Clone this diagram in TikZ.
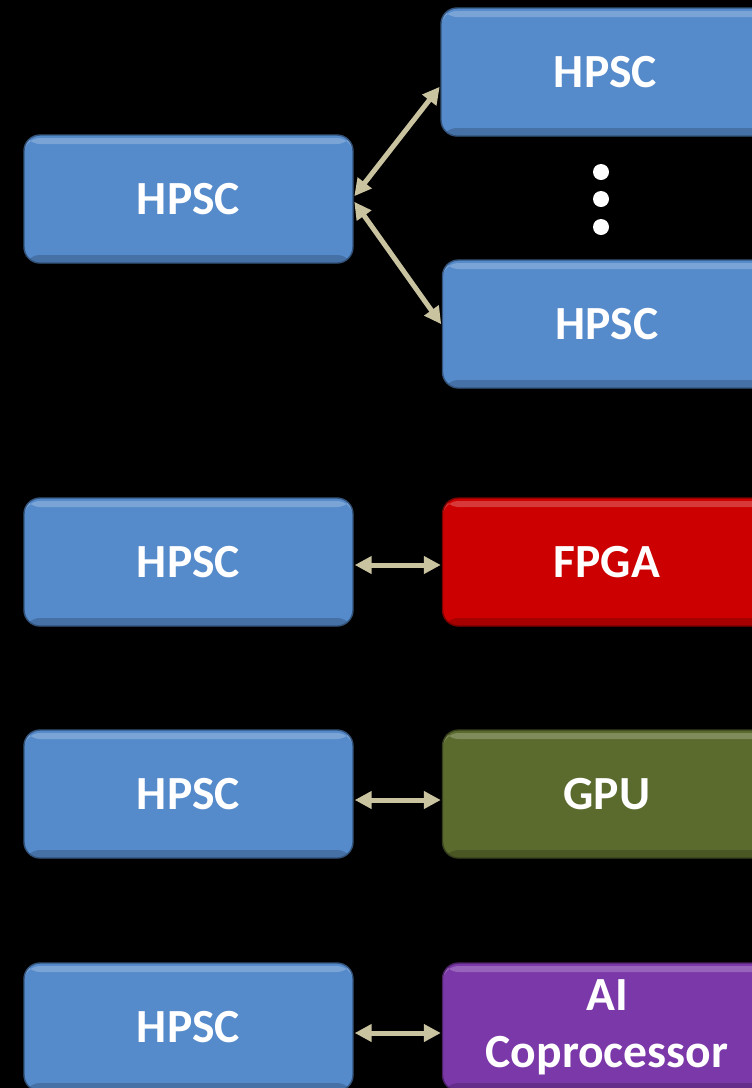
\documentclass[tikz,border=0pt]{standalone}
\usepackage{fontspec}
\setmainfont{Carlito}
\usetikzlibrary{arrows.meta}
\newcommand{\boxfont}{\fontsize{47.6}{57}\selectfont\bfseries}
\begin{document}
\begin{tikzpicture}[x=1pt,y=-1pt,
  box/.style={rounded corners=16pt, minimum width=329pt, minimum height=128pt,
    inner sep=0pt, align=center, text=white, font=\boxfont, line width=1.4pt,
    fill=#1, draw=#1!60!black,
    path picture={\fill[white,opacity=0.22] ([yshift=-3pt]path picture bounding box.north west) rectangle ([yshift=-9pt]path picture bounding box.north east);
      \fill[black,opacity=0.18] ([yshift=8pt]path picture bounding box.south west) rectangle (path picture bounding box.south east);}},
  link/.style={draw=LinkTan, line width=5pt, {Triangle[length=17pt,width=17pt]}-{Triangle[length=17pt,width=17pt]}, shorten <=1pt, shorten >=1pt}]
\definecolor{HubBlue}{HTML}{558ACB}
\definecolor{FpgaRed}{HTML}{CC0000}
\definecolor{GpuGreen}{HTML}{5B6B2E}
\definecolor{AiPurple}{HTML}{7B38A8}
\definecolor{LinkTan}{HTML}{C9C3A0}
\fill[black] (0,0) rectangle (752,1088);
\useasboundingbox (0,0) rectangle (752,1088);
\clip (0,0) rectangle (752,1088);
% fan-out
\node[box=HubBlue] (hub) at (188.5,199) {HPSC};
\node[box=HubBlue] (top) at (605.5,72) {HPSC};
\node[box=HubBlue] (bot) at (607,324) {HPSC};
\fill[white] (601,172) circle (8) (601,199) circle (8) (601,227) circle (8);
\draw[link] ([yshift=2pt]hub.east) -- ([yshift=-14pt]top.west);
\draw[link] ([yshift=-2pt]hub.east) -- ([yshift=-1pt]bot.west);
% accelerators
\node[box=HubBlue] (hpscA) at (188.5,562) {HPSC};
\node[box=FpgaRed] (fpga) at (607,562) {FPGA};
\node[box=HubBlue] (hpscB) at (188.5,794) {HPSC};
\node[box=GpuGreen] (gpu) at (607,794) {GPU};
\node[box=HubBlue] (hpscC) at (188.5,1027) {HPSC};
\node[box=AiPurple] (ai) at (607,1027) {AI\\Coprocessor};
\draw[link] ([yshift=-3pt]hpscA.east) -- ([yshift=-3pt]fpga.west);
\draw[link] ([yshift=-6pt]hpscB.east) -- ([yshift=-6pt]gpu.west);
\draw[link] ([yshift=-6pt]hpscC.east) -- ([yshift=-6pt]ai.west);
\end{tikzpicture}
\end{document}
